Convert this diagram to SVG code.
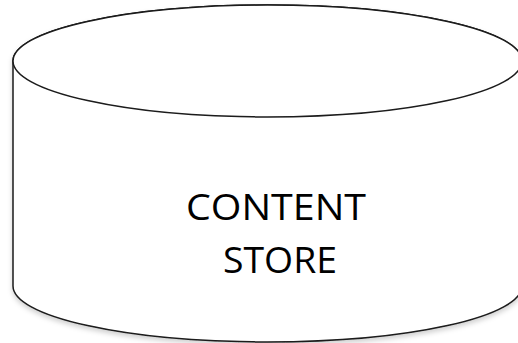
<svg xmlns="http://www.w3.org/2000/svg" width="518" height="343" viewBox="0 0 518 343">
<defs>
<filter id="sh" x="-10%" y="-10%" width="120%" height="130%">
<feDropShadow dx="0" dy="3" stdDeviation="2.5" flood-color="#000" flood-opacity="0.18"/>
</filter>
<style>
.cyl{fill:#fff;stroke:#1a1a1a;stroke-width:1.5}
.lbl{font-family:"Open Sans","Noto Sans",sans-serif;font-size:37px;fill:#000;text-anchor:middle}
</style>
</defs>
<rect width="518" height="343" fill="#fff"/>
<g id="content-store">
<g filter="url(#sh)">
<path class="cyl" d="M13,61 L13,286 A254.5,56 0 0 0 522,286 L522,61 A254.5,56 0 0 0 13,61 Z"/>
<ellipse class="cyl" cx="267.5" cy="61" rx="254.5" ry="56"/>
</g>
<text class="lbl" x="276" y="220" textLength="180" lengthAdjust="spacingAndGlyphs">CONTENT</text>
<text class="lbl" x="280" y="273" textLength="114" lengthAdjust="spacingAndGlyphs">STORE</text>
</g>
</svg>
